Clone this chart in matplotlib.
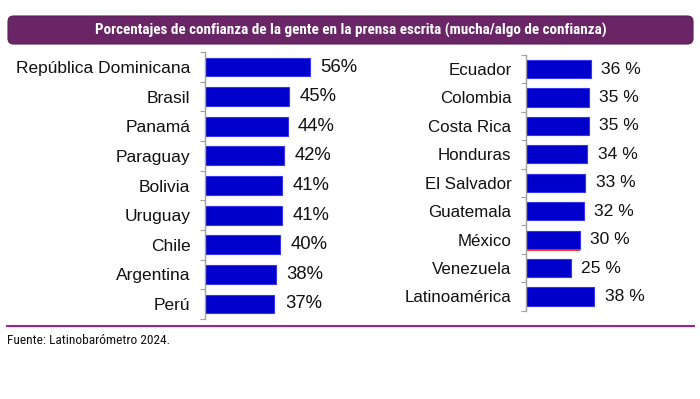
import matplotlib
matplotlib.use("Agg")
import matplotlib.pyplot as plt
from matplotlib.patches import FancyBboxPatch
from matplotlib.lines import Line2D
from matplotlib import font_manager

title = "Porcentajes de confianza de la gente en la prensa escrita (mucha/algo de confianza)"
source = "Fuente: Latinobarómetro 2024."

left_countries = ["República Dominicana", "Brasil", "Panamá", "Paraguay", "Bolivia",
                  "Uruguay", "Chile", "Argentina", "Perú"]
left_values = [56, 45, 44, 42, 41, 41, 40, 38, 37]
left_labels = ["56%", "45%", "44%", "42%", "41%", "41%", "40%", "38%", "37%"]

right_countries = ["Ecuador", "Colombia", "Costa Rica", "Honduras", "El Salvador",
                   "Guatemala", "México", "Venezuela", "Latinoamérica"]
right_values = [36, 35, 35, 34, 33, 32, 30, 25, 38]
right_labels = ["36 %", "35 %", "35 %", "34 %", "33 %", "32 %", "30 %", "25 %", "38 %"]

names = {f.name for f in font_manager.fontManager.ttflist}
narrow = None
for cand in ["Liberation Sans Narrow", "DejaVu Sans Condensed", "Roboto Condensed",
             "Open Sans Condensed", "Noto Sans Condensed"]:
    if cand in names:
        narrow = cand
        break

W, H = 700, 399
fig = plt.figure(figsize=(W / 100, H / 100), dpi=100)
fig.patch.set_facecolor("white")

def px_rect(x0, y0, x1, y1):
    return [x0 / W, 1 - y1 / H, (x1 - x0) / W, (y1 - y0) / H]

BAR = "#0000CC"
EDGE = "#3535F0"

def panel(rect, countries, values, labels, bar_h, label_fs, val_fs, highlight=None):
    ax = fig.add_axes(rect)
    n = len(countries)
    ys = list(range(n))
    ax.barh(ys, values, height=bar_h, color=BAR, edgecolor=EDGE, linewidth=0.8)
    ax.set_ylim(n - 0.5, -0.5)
    ax.set_xlim(0, 100)
    for s in ["top", "right", "bottom"]:
        ax.spines[s].set_visible(False)
    ax.spines["left"].set_color("#a0a0a0")
    ax.spines["left"].set_linewidth(1.0)
    ax.set_xticks([])
    ax.set_yticks(ys)
    ax.set_yticklabels(countries, fontsize=label_fs, family="Liberation Sans", color="#111111")
    ax.tick_params(axis="y", which="major", length=0, pad=10.5)
    ax.set_yticks([i - 0.5 for i in range(n + 1)], minor=True)
    ax.tick_params(axis="y", which="minor", length=3.5, width=0.8, color="#a0a0a0", direction="out")
    ax.patch.set_alpha(0)
    for y, v, lab in zip(ys, values, labels):
        ax.annotate(lab, (v, y), xytext=(7.5, 0), textcoords="offset points",
                    va="center", ha="left", fontsize=val_fs, family="Liberation Sans",
                    color="#111111")
    if highlight is not None:
        i = countries.index(highlight)
        ax.plot([0.4, values[i]], [i + bar_h / 2 + 0.03, i + bar_h / 2 + 0.03],
                color="#ff2020", lw=1.3, solid_capstyle="butt")
    return ax

panel(px_rect(205, 52.2, 205 + 187.5, 318.8), left_countries, left_values, left_labels,
      0.64, 12.5, 13.3)
panel(px_rect(526, 54.8, 526 + 180, 310.7), right_countries, right_values, right_labels,
      0.64, 12.2, 12.6, highlight="México")

# title banner
box = FancyBboxPatch((8 / W, 1 - 44 / H), (693 - 8) / W, (44 - 16) / H,
                     boxstyle="round,pad=0,rounding_size=0.008",
                     transform=fig.transFigure, facecolor="#6A2566", edgecolor="#5a1d57",
                     linewidth=0.8, mutation_aspect=W / H)
fig.patches.append(box)
if narrow:
    fig.text(351 / W, 1 - 30.5 / H, title, ha="center", va="center", color="white",
             fontsize=10.9, fontweight="bold", family=narrow)
    fig.text(7 / W, 1 - 340 / H, source, ha="left", va="center", color="#111111",
             fontsize=9.6, family=narrow)
else:
    fig.text(351 / W, 1 - 30.5 / H, title, ha="center", va="center", color="white",
             fontsize=9.0, fontweight="bold", family="Liberation Sans")
    fig.text(7 / W, 1 - 340 / H, source, ha="left", va="center", color="#111111",
             fontsize=8.6, family="Liberation Sans")

# bottom rule
fig.lines.append(Line2D([7 / W, 694 / W], [1 - 325.5 / H, 1 - 325.5 / H],
                        transform=fig.transFigure, color="#A0229A", lw=1.5))

fig.savefig("out.png", dpi=100, facecolor="white")
